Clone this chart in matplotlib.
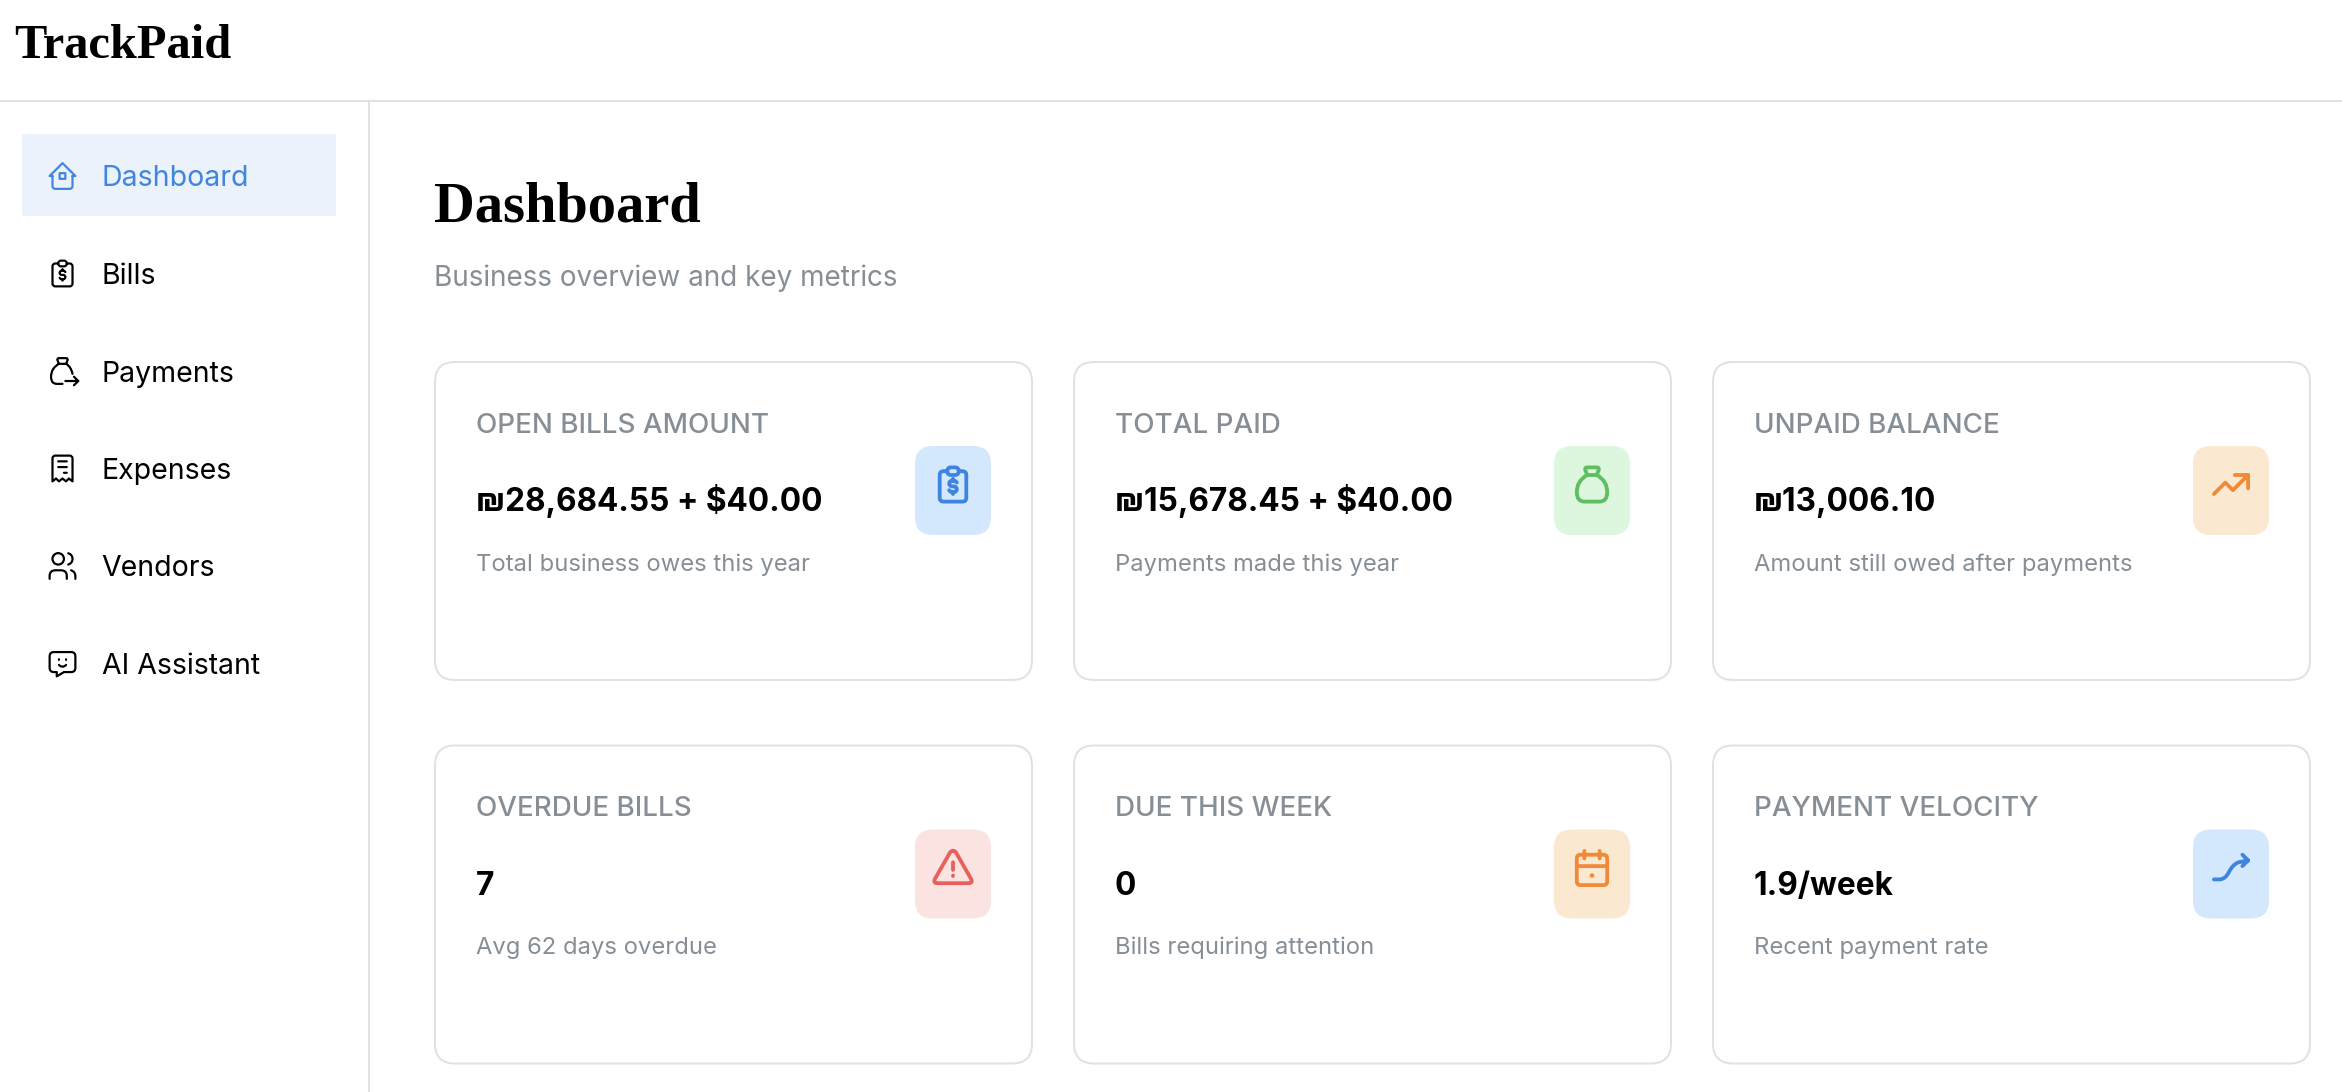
import matplotlib

matplotlib.use("Agg")
import matplotlib.pyplot as plt
from matplotlib.patches import FancyBboxPatch, PathPatch, Rectangle
from matplotlib.path import Path

plt.rcParams["font.family"] = ["Inter", "DejaVu Sans"]

# page content
app_name = "TrackPaid"
page_title = "Dashboard"
page_subtitle = "Business overview and key metrics"
nav_labels = ["Dashboard", "Bills", "Payments", "Expenses", "Vendors", "AI Assistant"]
nav_icons = ["home", "clipboard", "bag_out", "receipt", "users", "chat"]
card_titles = ["OPEN BILLS AMOUNT", "TOTAL PAID", "UNPAID BALANCE",
               "OVERDUE BILLS", "DUE THIS WEEK", "PAYMENT VELOCITY"]
card_values = ["₪28,684.55 + $40.00", "₪15,678.45 + $40.00", "₪13,006.10",
               "7", "0", "1.9/week"]
card_notes = ["Total business owes this year", "Payments made this year",
              "Amount still owed after payments", "Avg 62 days overdue",
              "Bills requiring attention", "Recent payment rate"]
card_icons = ["clipboard", "bag", "trend", "alert", "calendar", "velocity"]
card_colors = ["#3F85DF", "#5FBE62", "#F08A38", "#E8605C", "#F08A38", "#3F85DF"]
card_fills = ["#D3E7FD", "#DCF7DD", "#FBE8D0", "#FBE3E1", "#FBE8D0", "#D3E7FD"]

BORDER = "#DEE2E6"
GRAY = "#868E96"

# icons on a 24 unit grid, O is a circle and F a filled circle
ICONS = {
    "home": "M5 12 L3 12 L12 3 L21 12 L19 12 M5 12 L5 19 Q5 21 7 21 L17 21 Q19 21 19 19 L19 12 "
            "M10 10 L14 10 L14 14 L10 14 Z",
    "clipboard": "M9 5 L7 5 Q5 5 5 7 L5 19 Q5 21 7 21 L17 21 Q19 21 19 19 L19 7 Q19 5 17 5 L15 5 "
                 "M9 5 Q9 3 11 3 L13 3 Q15 3 15 5 Q15 7 13 7 L11 7 Q9 7 9 5 Z "
                 "M14 11 Q13.5 10 12.5 10 L11.5 10 Q10 10 10 11.5 Q10 13 11.5 13 L12.5 13 "
                 "Q14 13 14 14.5 Q14 16 12.5 16 L11.5 16 Q10.5 16 10 15 M12 9 L12 10 M12 16 L12 17",
    "bag": "M9.5 3 L14.5 3 Q16 3 15.5 4.5 L14.5 7 L9.5 7 L8.5 4.5 Q8 3 9.5 3 Z "
           "M9.5 7 Q4 10 4 16 Q4 21 8 21 L16 21 Q20 21 20 16 Q20 10 14.5 7",
    "bag_out": "M9.5 3 L14.5 3 Q16 3 15.5 4.5 L14.5 7 L9.5 7 L8.5 4.5 Q8 3 9.5 3 Z "
               "M9.5 7 Q4 10 4 16 Q4 21 8 21 L12 21 M14.5 7 Q18 9 19 14 "
               "M14 19 L23 19 M20 16 L23 19 L20 22",
    "receipt": "M5 21 L5 5 Q5 3 7 3 L17 3 Q19 3 19 5 L19 21 L16.5 19 L14.5 21 L12 19 L9.5 21 L7.5 19 Z "
               "M9 7 L15 7 M9 11 L15 11 M13 15 L15 15",
    "users": "O 9 7 4 M3 21 L3 19 Q3 15 7 15 L11 15 Q15 15 15 19 L15 21 "
             "M16 3.1 Q19 4 19 7 Q19 10 16 11 M21 21 L21 19 Q21 16 18 15",
    "chat": "M18 4 Q21 4 21 7 L21 15 Q21 18 18 18 L13 18 L8 21 L8 18 L6 18 Q3 18 3 15 L3 7 Q3 4 6 4 Z "
            "M9.5 9 L9.5 9.5 M14.5 9 L14.5 9.5 M9.5 13 Q12 15.5 14.5 13",
    "trend": "M3 17 L9 11 L13 15 L21 7 M14 7 L21 7 L21 14",
    "alert": "M12 9 L12 13 M12 16 L12 16.2 M10.4 3.9 L2.4 17.9 Q1.5 20 3.8 20 L20.2 20 "
             "Q22.5 20 21.6 17.9 L13.6 3.9 Q12 1.9 10.4 3.9 Z",
    "calendar": "M6 5 L18 5 Q20 5 20 7 L20 19 Q20 21 18 21 L6 21 Q4 21 4 19 L4 7 Q4 5 6 5 Z "
                "M16 3 L16 7 M8 3 L8 7 M4 11 L20 11 F 12 16 1.2",
    "velocity": "M3 18 L6 18 Q9 18 11 14 Q13 10 16 9 L21 8 M18 5 L21 8 L18 11",
}


def px(size):
    # css pixels to points at dpi 100
    return size * 0.72


def parse_icon(spec, cx, cy, scale):
    verts, codes, dots = [], [], []
    tok = spec.split()
    i = 0
    pt = lambda k: (cx + (float(tok[k]) - 12) * scale, cy + (float(tok[k + 1]) - 12) * scale)
    start = None
    while i < len(tok):
        c = tok[i][0]
        if c in "MLQ" and len(tok[i]) > 1:
            tok[i] = tok[i][1:]
        if c == "M":
            start = pt(i)
            verts.append(start)
            codes.append(Path.MOVETO)
            i += 2
        elif c == "L":
            verts.append(pt(i))
            codes.append(Path.LINETO)
            i += 2
        elif c == "Q":
            verts += [pt(i), pt(i + 2)]
            codes += [Path.CURVE3, Path.CURVE3]
            i += 4
        elif c == "Z":
            verts.append(start)
            codes.append(Path.CLOSEPOLY)
            i += 1
        elif c in "OF":
            x, y = pt(i + 1)
            dots.append((x, y, float(tok[i + 3]) * scale, c == "F"))
            i += 4
    return Path(verts, codes), dots


def draw_icon(ax, name, cx, cy, scale, color, lw):
    path, dots = parse_icon(ICONS[name], cx, cy, scale)
    ax.add_patch(PathPatch(path, fill=False, ec=color, lw=px(lw),
                           capstyle="round", joinstyle="round"))
    for x, y, r, filled in dots:
        ax.add_patch(plt.Circle((x, y), r, fc=color if filled else "none",
                                ec=color, lw=px(lw) if not filled else 0))


fig = plt.figure(figsize=(23.42, 10.92), dpi=100)
ax = fig.add_axes([0, 0, 1, 1])
ax.set_xlim(0, 2342)
ax.set_ylim(1092, 0)
ax.axis("off")

# header and sidebar rules
ax.plot([0, 2342], [101, 101], color=BORDER, lw=px(2))
ax.plot([369, 369], [101, 1092], color=BORDER, lw=px(2))
ax.text(14, 58, app_name, family="Liberation Serif", weight="bold", fontsize=px(48.5), color="black")

# sidebar
ax.add_patch(Rectangle((22, 134), 314, 82, fc="#EBF2FC", ec="none"))
for i, (label, icon) in enumerate(zip(nav_labels, nav_icons)):
    color = "#4285DC" if i == 0 else "black"
    draw_icon(ax, icon, 62.5, 176 + i * 97.5, 1.43, color, 2.2)
    ax.text(101.5, 186.5 + i * 97.5, label, fontsize=px(28.5), color=color)

# page heading
ax.text(434, 222, page_title, family="Liberation Serif", weight="bold", fontsize=px(56.5), color="black")
ax.text(434, 286, page_subtitle, fontsize=px(27.9), color=GRAY)

# metric cards
card_x = [435, 1074, 1713]
card_y = [362, 745.5]
for i in range(6):
    x0 = card_x[i % 3]
    y0 = card_y[i // 3]
    ax.add_patch(FancyBboxPatch((x0 + 20, y0 + 20), 557, 278, boxstyle="round,pad=20,rounding_size=20",
                                fc="white", ec=BORDER, lw=px(2)))
    ax.text(x0 + 41, y0 + 71, card_titles[i], fontsize=px(27.8), weight="medium", color=GRAY)
    ax.text(x0 + 41, y0 + 149.5, card_values[i], fontsize=px(31.6), weight="bold", color="black")
    ax.text(x0 + 41, y0 + 208.5, card_notes[i], fontsize=px(23.8), color=GRAY)
    bx = x0 + 480
    by = y0 + 84
    ax.add_patch(FancyBboxPatch((bx + 18, by + 18), 40, 53, boxstyle="round,pad=18,rounding_size=18",
                                fc=card_fills[i], ec="none"))
    draw_icon(ax, card_icons[i], bx + 38, by + 38.5, 1.9, card_colors[i], 3.8)

fig.savefig("out.png", dpi=100)
